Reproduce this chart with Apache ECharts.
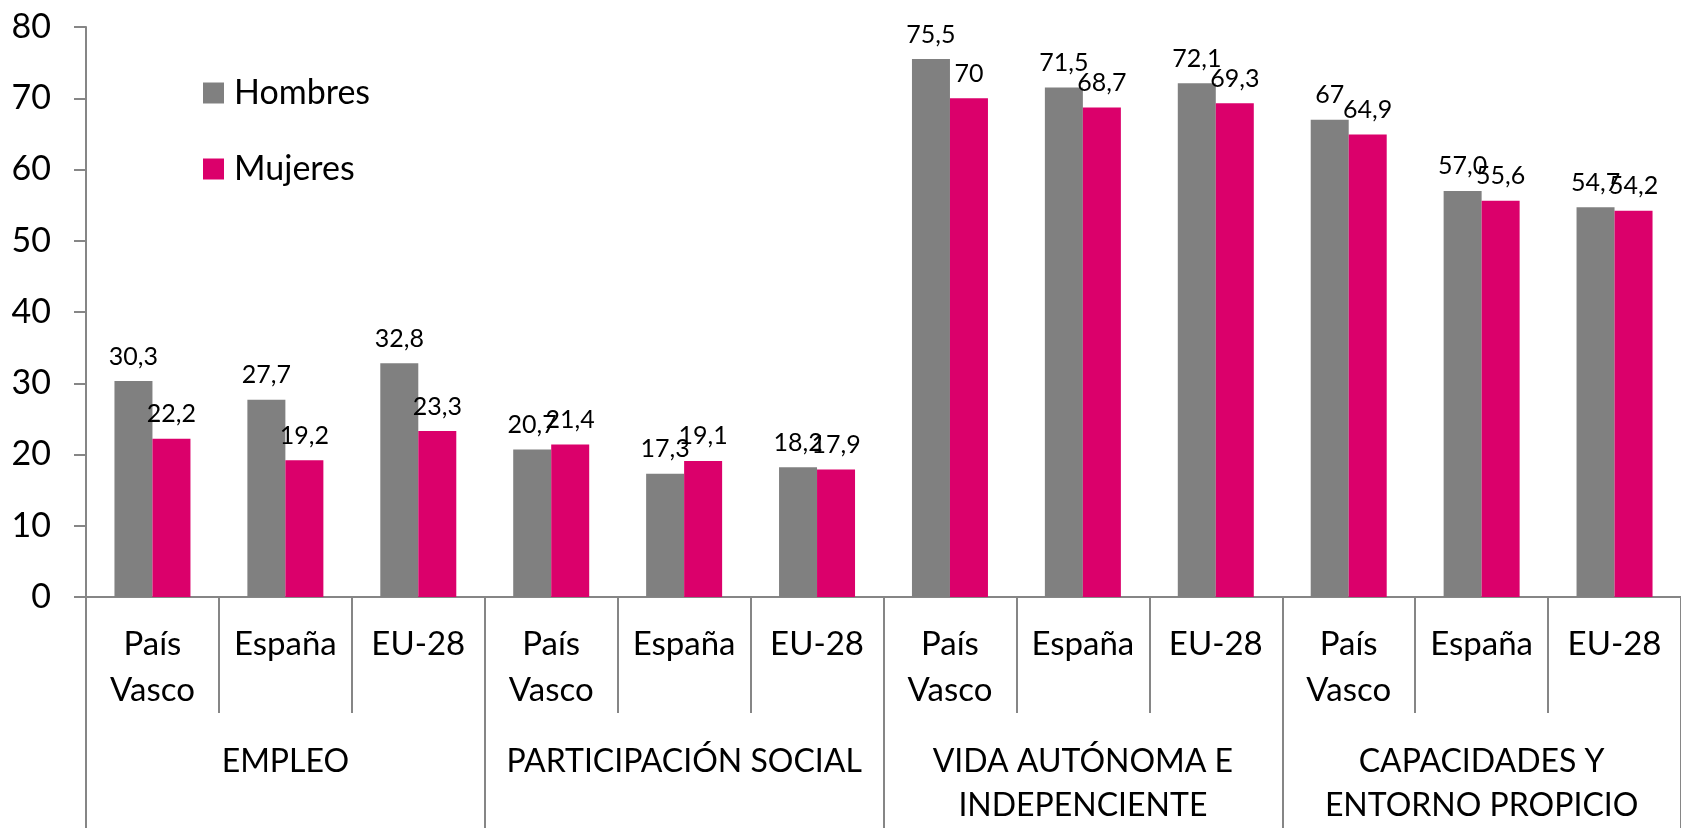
<!DOCTYPE html>
<html>
<head>
<meta charset="utf-8">
<script src="https://cdn.jsdelivr.net/npm/echarts@6/dist/echarts.min.js"></script>
<style>
  html, body { margin: 0; padding: 0; background: #fff; }
  #chart { width: 1681px; height: 828px; }
</style>
</head>
<body>
<div id="chart"></div>
<script>
// categorias (nivel inferior y nivel de grupo)
const places = ['País\nVasco', 'España', 'EU-28', 'País\nVasco', 'España', 'EU-28',
  'País\nVasco', 'España', 'EU-28', 'País\nVasco', 'España', 'EU-28']
const groups = ['EMPLEO', 'PARTICIPACIÓN SOCIAL', 'VIDA AUTÓNOMA E\nINDEPENCIENTE', 'CAPACIDADES Y\nENTORNO PROPICIO']

const hombres = [30.3, 27.7, 32.8, 20.7, 17.3, 18.2, 75.5, 71.5, 72.1, 67, 57.0, 54.7]
const mujeres = [22.2, 19.2, 23.3, 21.4, 19.1, 17.9, 70, 68.7, 69.3, 64.9, 55.6, 54.2]
// etiquetas tal como aparecen en el gráfico
const hombresLabels = ['30,3', '27,7', '32,8', '20,7', '17,3', '18,2', '75,5', '71,5', '72,1', '67', '57,0', '54,7']
const mujeresLabels = ['22,2', '19,2', '23,3', '21,4', '19,1', '17,9', '70', '68,7', '69,3', '64,9', '55,6', '54,2']

const yTicks = { min: 0, max: 80, interval: 10 }

const font = 'Lato'
const axisGray = '#868686'

const chart = echarts.init(document.getElementById('chart'))

chart.setOption({
  backgroundColor: '#fff',
  animation: false,
  textStyle: { fontFamily: font },
  legend: {
    orient: 'vertical',
    left: 198,
    top: 71,
    icon: 'rect',
    itemWidth: 21,
    itemHeight: 21,
    itemGap: 42,
    data: ['Hombres', 'Mujeres'],
    textStyle: {
      fontFamily: font,
      fontSize: 34,
      lineHeight: 30,
      color: '#000',
      padding: [0, 0, 0, 5]
    }
  },
  grid: {
    left: 86,
    right: -13,
    top: 27,
    bottom: 229,
    containLabel: false
  },
  xAxis: [{
    type: 'category',
    data: places,
    boundaryGap: true,
    axisLine: { show: true, lineStyle: { color: axisGray, width: 2 } },
    axisTick: {
      show: true,
      interval: 0,
      length: 116,
      lineStyle: { color: axisGray, width: 2 }
    },
    axisLabel: {
      interval: 0,
      margin: 24,
      fontFamily: font,
      fontSize: 33,
      lineHeight: 46,
      color: '#000'
    }
  }, {
    type: 'category',
    data: groups,
    position: 'bottom',
    boundaryGap: true,
    axisLine: { show: false },
    axisTick: {
      show: true,
      interval: 0,
      length: 240,
      lineStyle: { color: axisGray, width: 2 }
    },
    axisLabel: {
      interval: 0,
      margin: 143,
      fontFamily: font,
      fontSize: 32,
      lineHeight: 44,
      color: '#000'
    }
  }],
  yAxis: {
    type: 'value',
    min: yTicks.min,
    max: yTicks.max,
    interval: yTicks.interval,
    axisLine: { show: true, lineStyle: { color: axisGray, width: 2 } },
    axisTick: { show: true, length: 12, lineStyle: { color: axisGray, width: 2 } },
    splitLine: { show: false },
    axisLabel: {
      margin: 35,
      fontFamily: font,
      fontSize: 34,
      color: '#000'
    }
  },
  series: [{
    name: 'Hombres',
    type: 'bar',
    xAxisIndex: 0,
    barWidth: 38,
    barGap: '0%',
    itemStyle: { color: '#808080' },
    label: {
      show: true,
      position: 'top',
      distance: 12,
      fontFamily: font,
      fontSize: 25,
      color: '#000',
      formatter: p => hombresLabels[p.dataIndex]
    },
    data: hombres
  }, {
    name: 'Mujeres',
    type: 'bar',
    xAxisIndex: 0,
    barWidth: 38,
    barGap: '0%',
    itemStyle: { color: '#DB006B' },
    label: {
      show: true,
      position: 'top',
      distance: 12,
      fontFamily: font,
      fontSize: 25,
      color: '#000',
      formatter: p => mujeresLabels[p.dataIndex]
    },
    data: mujeres
  }]
})
</script>
</body>
</html>
